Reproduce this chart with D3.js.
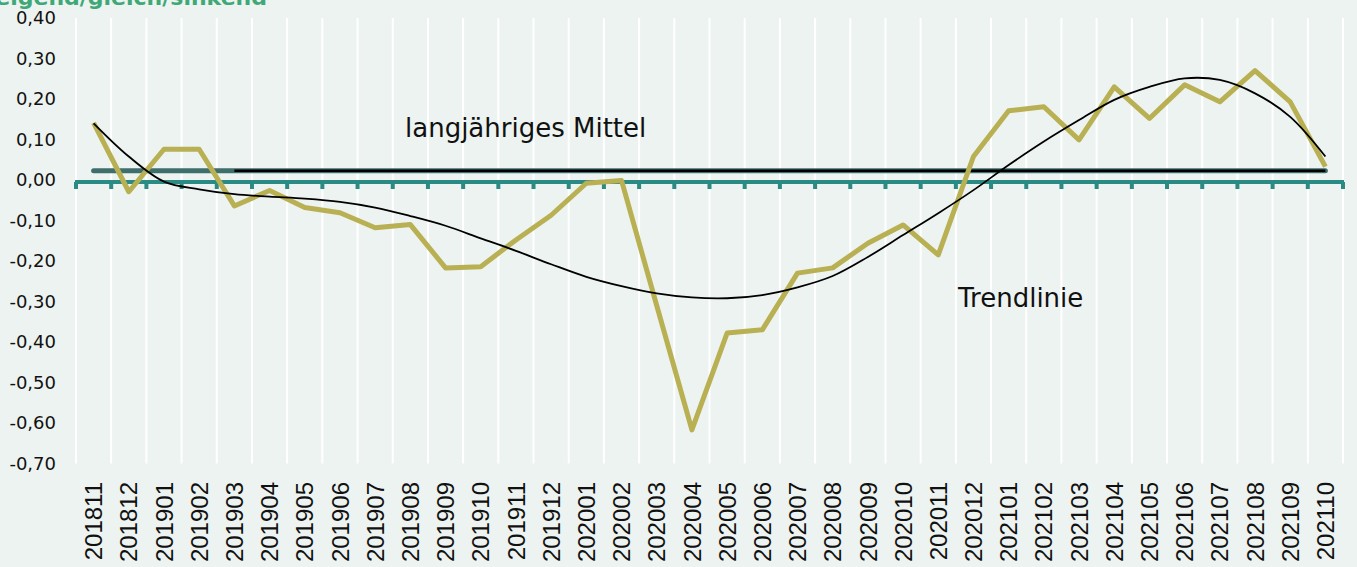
<!DOCTYPE html>
<html>
<head>
<meta charset="utf-8">
<script src="https://cdn.jsdelivr.net/npm/d3@7"></script>
<style>
  body { margin: 0; background: #edf3f0; }
  svg { display: block; }
</style>
</head>
<body>
<script>
// Monate
var months = ["201811", "201812", "201901", "201902", "201903", "201904", "201905", "201906",
  "201907", "201908", "201909", "201910", "201911", "201912", "202001", "202002", "202003",
  "202004", "202005", "202006", "202007", "202008", "202009", "202010", "202011", "202012",
  "202101", "202102", "202103", "202104", "202105", "202106", "202107", "202108", "202109", "202110"];

// steigend/gleich/sinkend (Saldo)
var saldo = [0.141, -0.029, 0.076, 0.076, -0.064, -0.026, -0.068, -0.081, -0.118, -0.110,
  -0.217, -0.214, -0.148, -0.087, -0.008, -0.001, -0.31, -0.617, -0.378, -0.37,
  -0.23, -0.217, -0.156, -0.111, -0.185, 0.058, 0.171, 0.181, 0.099, 0.23,
  0.152, 0.235, 0.193, 0.27, 0.193, 0.033];

// Trendlinie
var trend = [0.14, 0.058, -0.004, -0.023, -0.035, -0.041, -0.046, -0.054, -0.068, -0.089,
  -0.113, -0.144, -0.175, -0.208, -0.239, -0.262, -0.28, -0.29, -0.292, -0.284,
  -0.265, -0.237, -0.19, -0.136, -0.082, -0.025, 0.037, 0.095, 0.148, 0.198,
  0.23, 0.251, 0.247, 0.214, 0.156, 0.058];

// langjähriges Mittel
var mittel = months.map(function() { return 0.023; });
var mittelAb = months.map(function(d, i) { return i < 4 ? null : 0.023; });

var yTicks = [0.4, 0.3, 0.2, 0.1, 0, -0.1, -0.2, -0.3, -0.4, -0.5, -0.6, -0.7];

var w = 1357, h = 567;
var plotL = 76, plotR = 1343, plotT = 18, plotB = 463.5;

var svg = d3.select("body").append("svg")
  .attr("width", w)
  .attr("height", h);

var x = d3.scaleBand().domain(months).range([plotL, plotR]).padding(0);
var y = d3.scaleLinear().domain([-0.7, 0.4]).range([plotB, plotT]);
var cx = function(i) { return x(months[i]) + x.bandwidth() / 2; };

// Gitterlinien (weiss, an den Kategoriegrenzen)
var bounds = months.map(function(m) { return x(m); }).concat([x.range()[1]]);
svg.append("g").selectAll("line")
  .data(bounds)
  .enter().append("line")
  .attr("x1", function(d) { return d; })
  .attr("x2", function(d) { return d; })
  .attr("y1", y(0.4))
  .attr("y2", y(-0.7))
  .attr("stroke", "#ffffff")
  .attr("stroke-width", 2);

// Y-Achse Beschriftung
svg.append("g").selectAll("text")
  .data(yTicks)
  .enter().append("text")
  .attr("x", 56)
  .attr("y", function(d) { return y(d); })
  .attr("dy", "0.36em")
  .attr("text-anchor", "end")
  .attr("font-family", "DejaVu Sans")
  .attr("font-size", "18px")
  .attr("fill", "#111")
  .text(function(d) { return d3.format(".2f")(d).replace(".", ",").replace("\u2212", "-"); });

// X-Achse (Nulllinie) mit Teilstrichen
var axisCol = "#2a8a84";
svg.append("line")
  .attr("x1", x.range()[0] - 1)
  .attr("x2", x.range()[1] + 1)
  .attr("y1", y(0) + 2)
  .attr("y2", y(0) + 2)
  .attr("stroke", axisCol)
  .attr("stroke-width", 4);
svg.append("g").selectAll("line")
  .data(bounds)
  .enter().append("line")
  .attr("x1", function(d) { return d; })
  .attr("x2", function(d) { return d; })
  .attr("y1", y(0) + 2)
  .attr("y2", y(0) + 9)
  .attr("stroke", axisCol)
  .attr("stroke-width", 4);

// X-Achse Beschriftung
svg.append("g").selectAll("text")
  .data(months)
  .enter().append("text")
  .attr("transform", function(d) { return "translate(" + (x(d) + x.bandwidth() / 2) + ",482) rotate(-90)"; })
  .attr("dy", "0.36em")
  .attr("text-anchor", "end")
  .attr("font-family", "Liberation Sans")
  .attr("font-size", "24px")
  .attr("fill", "#111")
  .text(function(d) { return d; });

var line = d3.line()
  .defined(function(d) { return d != null; })
  .x(function(d, i) { return cx(i); })
  .y(function(d) { return y(d); });

// langjähriges Mittel
svg.append("path")
  .attr("d", line(mittel))
  .attr("fill", "none")
  .attr("stroke", "#3f6f6c")
  .attr("stroke-width", 5)
  .attr("stroke-linecap", "round");
svg.append("path")
  .attr("d", line(mittelAb))
  .attr("fill", "none")
  .attr("stroke", "#000")
  .attr("stroke-width", 2.5);

// Saldo
svg.append("path")
  .attr("d", line(saldo))
  .attr("fill", "none")
  .attr("stroke", "#b8b052")
  .attr("stroke-width", 5)
  .attr("stroke-linejoin", "round");

// Trendlinie
var trendLine = d3.line()
  .x(function(d, i) { return cx(i); })
  .y(function(d) { return y(d); })
  .curve(d3.curveCatmullRom.alpha(0.5));
svg.append("path")
  .attr("d", trendLine(trend))
  .attr("fill", "none")
  .attr("stroke", "#000")
  .attr("stroke-width", 1.8);

// Beschriftungen
svg.append("text")
  .attr("x", 405)
  .attr("y", 137)
  .attr("font-family", "DejaVu Sans")
  .attr("font-size", "26px")
  .attr("fill", "#111")
  .text("langjähriges Mittel");
svg.append("text")
  .attr("x", 958)
  .attr("y", 307)
  .attr("font-family", "DejaVu Sans")
  .attr("font-size", "26px")
  .attr("fill", "#111")
  .text("Trendlinie");

// Titel (oben abgeschnitten)
svg.append("text")
  .attr("x", 267)
  .attr("y", 5)
  .attr("text-anchor", "end")
  .attr("font-family", "DejaVu Sans")
  .attr("font-weight", "bold")
  .attr("font-size", "22px")
  .attr("fill", "#3fa877")
  .text("steigend/gleich/sinkend");
</script>
</body>
</html>
